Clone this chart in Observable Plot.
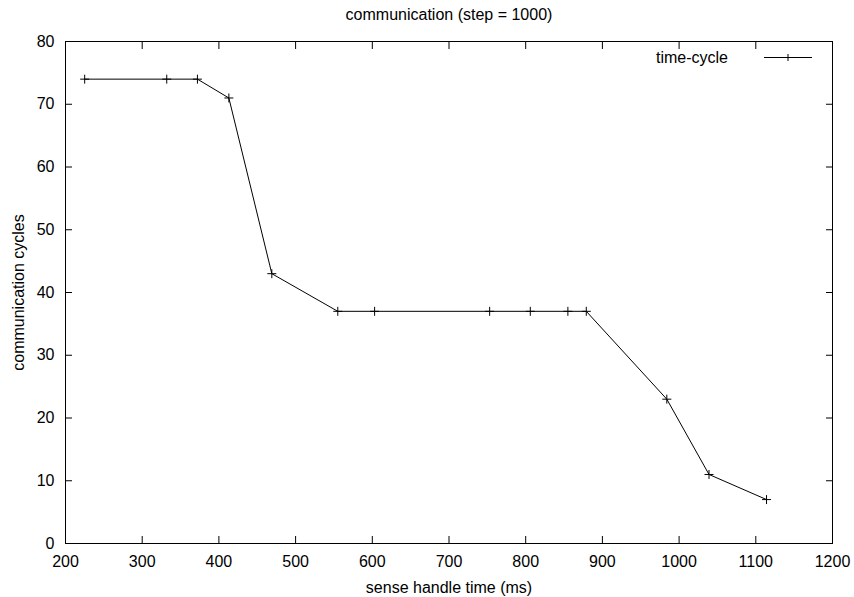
<!DOCTYPE html>
<html>
<head>
<meta charset="utf-8">
<script src="https://cdn.jsdelivr.net/npm/d3@7"></script>
<script src="https://cdn.jsdelivr.net/npm/@observablehq/plot@0.6"></script>
<style>
  html, body { margin: 0; padding: 0; background: white; }
</style>
</head>
<body>
<div id="chart"></div>
<script>
const title = "communication (step = 1000)";
const xLabel = "sense handle time (ms)";
const yLabel = "communication cycles";
const seriesName = "time-cycle";

const senseTime = [225, 332, 372, 413, 469, 555, 603, 753, 806, 855, 879, 984, 1039, 1114];
const cycles    = [74, 74, 74, 71, 43, 37, 37, 37, 37, 37, 37, 23, 11, 7];

const xTicks = [200, 300, 400, 500, 600, 700, 800, 900, 1000, 1100, 1200];
const yTicks = [0, 10, 20, 30, 40, 50, 60, 70, 80];

const data = senseTime.map((t, i) => ({t, c: cycles[i]}));

const FONT = "'Liberation Sans', Arial, Helvetica, sans-serif";
const FS = 16;

function legendMark(index, scales, values, dimensions) {
  const right = dimensions.width - dimensions.marginRight;
  const cy = dimensions.marginTop + 16.5;
  const g = d3.create("svg:g");
  g.append("line")
    .attr("x1", right - 68).attr("x2", right - 20)
    .attr("y1", cy).attr("y2", cy)
    .attr("stroke", "black").attr("stroke-width", 1);
  const px = right - 44;
  g.append("path")
    .attr("d", `M${px - 3.5},${cy}H${px + 3.5}M${px},${cy - 3.5}V${cy + 3.5}`)
    .attr("stroke", "black").attr("stroke-width", 1).attr("fill", "none");
  g.append("text")
    .attr("x", right - 104).attr("y", cy)
    .attr("dy", "0.32em")
    .attr("text-anchor", "end")
    .attr("font-family", FONT)
    .attr("font-size", FS)
    .attr("fill", "black")
    .text(seriesName);
  return g.node();
}

const chart = Plot.plot({
  width: 854,
  height: 597,
  marginLeft: 65,
  marginRight: 22,
  marginTop: 41,
  marginBottom: 54,
  style: {fontFamily: FONT, fontSize: FS + "px", color: "black", background: "white"},
  x: {domain: [200, 1200], label: null},
  y: {domain: [0, 80], label: null},
  marks: [
    Plot.frame({stroke: "black", strokeWidth: 1}),
    Plot.axisX({ticks: xTicks, anchor: "bottom", tickSize: 0, tickPadding: 12, tickFormat: d => String(d), fontSize: FS, label: null}),
    Plot.axisX({ticks: xTicks, anchor: "bottom", tickSize: -7, text: null, label: null, strokeWidth: 1}),
    Plot.axisX({ticks: xTicks, anchor: "top", tickSize: -7, text: null, label: null, strokeWidth: 1}),
    Plot.axisY({ticks: yTicks, anchor: "left", tickSize: 0, tickPadding: 11, tickFormat: d => String(d), fontSize: FS, label: null}),
    Plot.axisY({ticks: yTicks, anchor: "left", tickSize: -7, text: null, label: null, strokeWidth: 1}),
    Plot.axisY({ticks: yTicks, anchor: "right", tickSize: -7, text: null, label: null, strokeWidth: 1}),
    Plot.text([title], {frameAnchor: "top", dy: -27, lineAnchor: "middle", fontSize: FS, fill: "black"}),
    Plot.text([xLabel], {frameAnchor: "bottom", dy: 44, lineAnchor: "middle", fontSize: FS, fill: "black"}),
    Plot.text([yLabel], {frameAnchor: "left", dx: -46.5, rotate: -90, lineAnchor: "middle", textAnchor: "middle", fontSize: FS, fill: "black"}),
    Plot.line(data, {x: "t", y: "c", stroke: "black", strokeWidth: 1}),
    Plot.dot(data, {x: "t", y: "c", symbol: "plus", r: 3, stroke: "black", strokeWidth: 1}),
    legendMark
  ]
});

document.getElementById("chart").appendChild(chart);
</script>
</body>
</html>
